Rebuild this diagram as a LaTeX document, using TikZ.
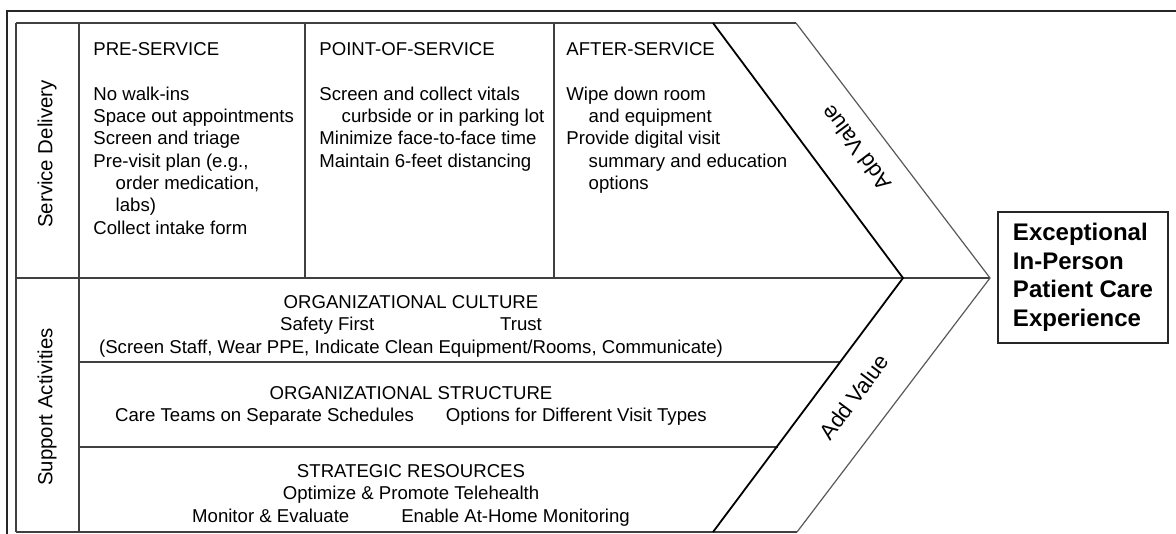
\documentclass[tikz,border=0pt]{standalone}
\usepackage{fontspec}
\setmainfont{Liberation Sans}

\begin{document}
\begin{tikzpicture}[x=0.5pt,y=-0.5pt,
  rule/.style={draw=black!75,line width=0.8pt},
  chevin/.style={draw=black,line width=0.9pt},
  chevout/.style={draw=black!65,line width=0.6pt},
  frameline/.style={draw=black!85,line width=0.6pt},
  cell/.style={anchor=north west,inner sep=0pt,align=left,font=\fontsize{9.3}{11.15}\selectfont},
  rowtext/.style={anchor=north,inner sep=0pt,align=center,font=\fontsize{9.3}{11.3}\selectfont},
  sidelabel/.style={rotate=90,inner sep=0pt,font=\fontsize{10.2}{12}\selectfont},
  addvalue/.style={inner sep=0pt,font=\fontsize{11}{13}\selectfont},
  goalbox/.style={draw=black!85,line width=0.8pt,align=left,inner xsep=7pt,
    minimum width=85pt,minimum height=65.5pt,font=\bfseries\fontsize{12}{14.25}\selectfont}]
\useasboundingbox (0,0) rectangle (1176,534);

\coordinate (tl) at (16,23);
\coordinate (bl) at (16,532);
\coordinate (midl) at (16,278);
\coordinate (intop) at (713,23);
\coordinate (intip) at (903,278);
\coordinate (inbot) at (713,532);
\coordinate (outtop) at (796,23);
\coordinate (outtip) at (990,278);
\coordinate (outbot) at (797,532);

\draw[frameline] (7,534) |- (1176,11);

\draw[rule] (tl) -- (outtop);
\draw[rule] (bl) -- (outbot);
\draw[rule] (tl) -- (bl);
\draw[rule] (79,23) -- (79,532);
\draw[rule] (midl) -- (outtip);
\draw[rule] (305,23) -- (305,278);
\draw[rule] (554,23) -- (554,278);
\draw[rule] (79,362) -- (840,362);
\draw[rule] (79,447) -- (778,447);
\draw[chevin] (intop) -- (intip) -- (inbot);
\draw[chevout] (outtop) -- (outtip) -- (outbot);

\node[sidelabel] (sd) at (47,154) {Service Delivery};
\node[sidelabel] (sa) at (47,407) {Support Activities};

\node[cell] (pre) at (93,42) {PRE-SERVICE\\[11.3pt]
No walk-ins\\
Space out appointments\\
Screen and triage\\
Pre-visit plan (e.g.,\\
\hspace*{1.2em}order medication,\\
\hspace*{1.2em}labs)\\
Collect intake form};

\node[cell] (pos) at (319,42) {POINT-OF-SERVICE\\[11.3pt]
Screen and collect vitals\\
\hspace*{1.2em}curbside or in parking lot\\
Minimize face-to-face time\\
Maintain 6-feet distancing};

\node[cell] (after) at (566,42) {AFTER-SERVICE\\[11.3pt]
Wipe down room\\
\hspace*{1.2em}and equipment\\
Provide digital visit\\
\hspace*{1.2em}summary and education\\
\hspace*{1.2em}options};

\node[rowtext] (culture) at (411,295) {ORGANIZATIONAL CULTURE\\
Safety First\hspace{63pt}Trust\\
(Screen Staff, Wear PPE, Indicate Clean Equipment/Rooms, Communicate)};

\node[rowtext] (structure) at (411,386) {ORGANIZATIONAL STRUCTURE\\
Care Teams on Separate Schedules\hspace{16pt}Options for Different Visit Types};

\node[rowtext] (resources) at (411,464) {STRATEGIC RESOURCES\\
Optimize \& Promote Telehealth\\
Monitor \& Evaluate\hspace{26pt}Enable At-Home Monitoring};

\node[addvalue,rotate=126.7] (addup) at (856,148) {Add Value};
\node[addvalue,rotate=53.2] (adddown) at (854,397) {Add Value};

\node[goalbox] (goal) at (1083,277.5) {Exceptional\\In-Person\\Patient Care\\Experience};
\end{tikzpicture}
\end{document}
